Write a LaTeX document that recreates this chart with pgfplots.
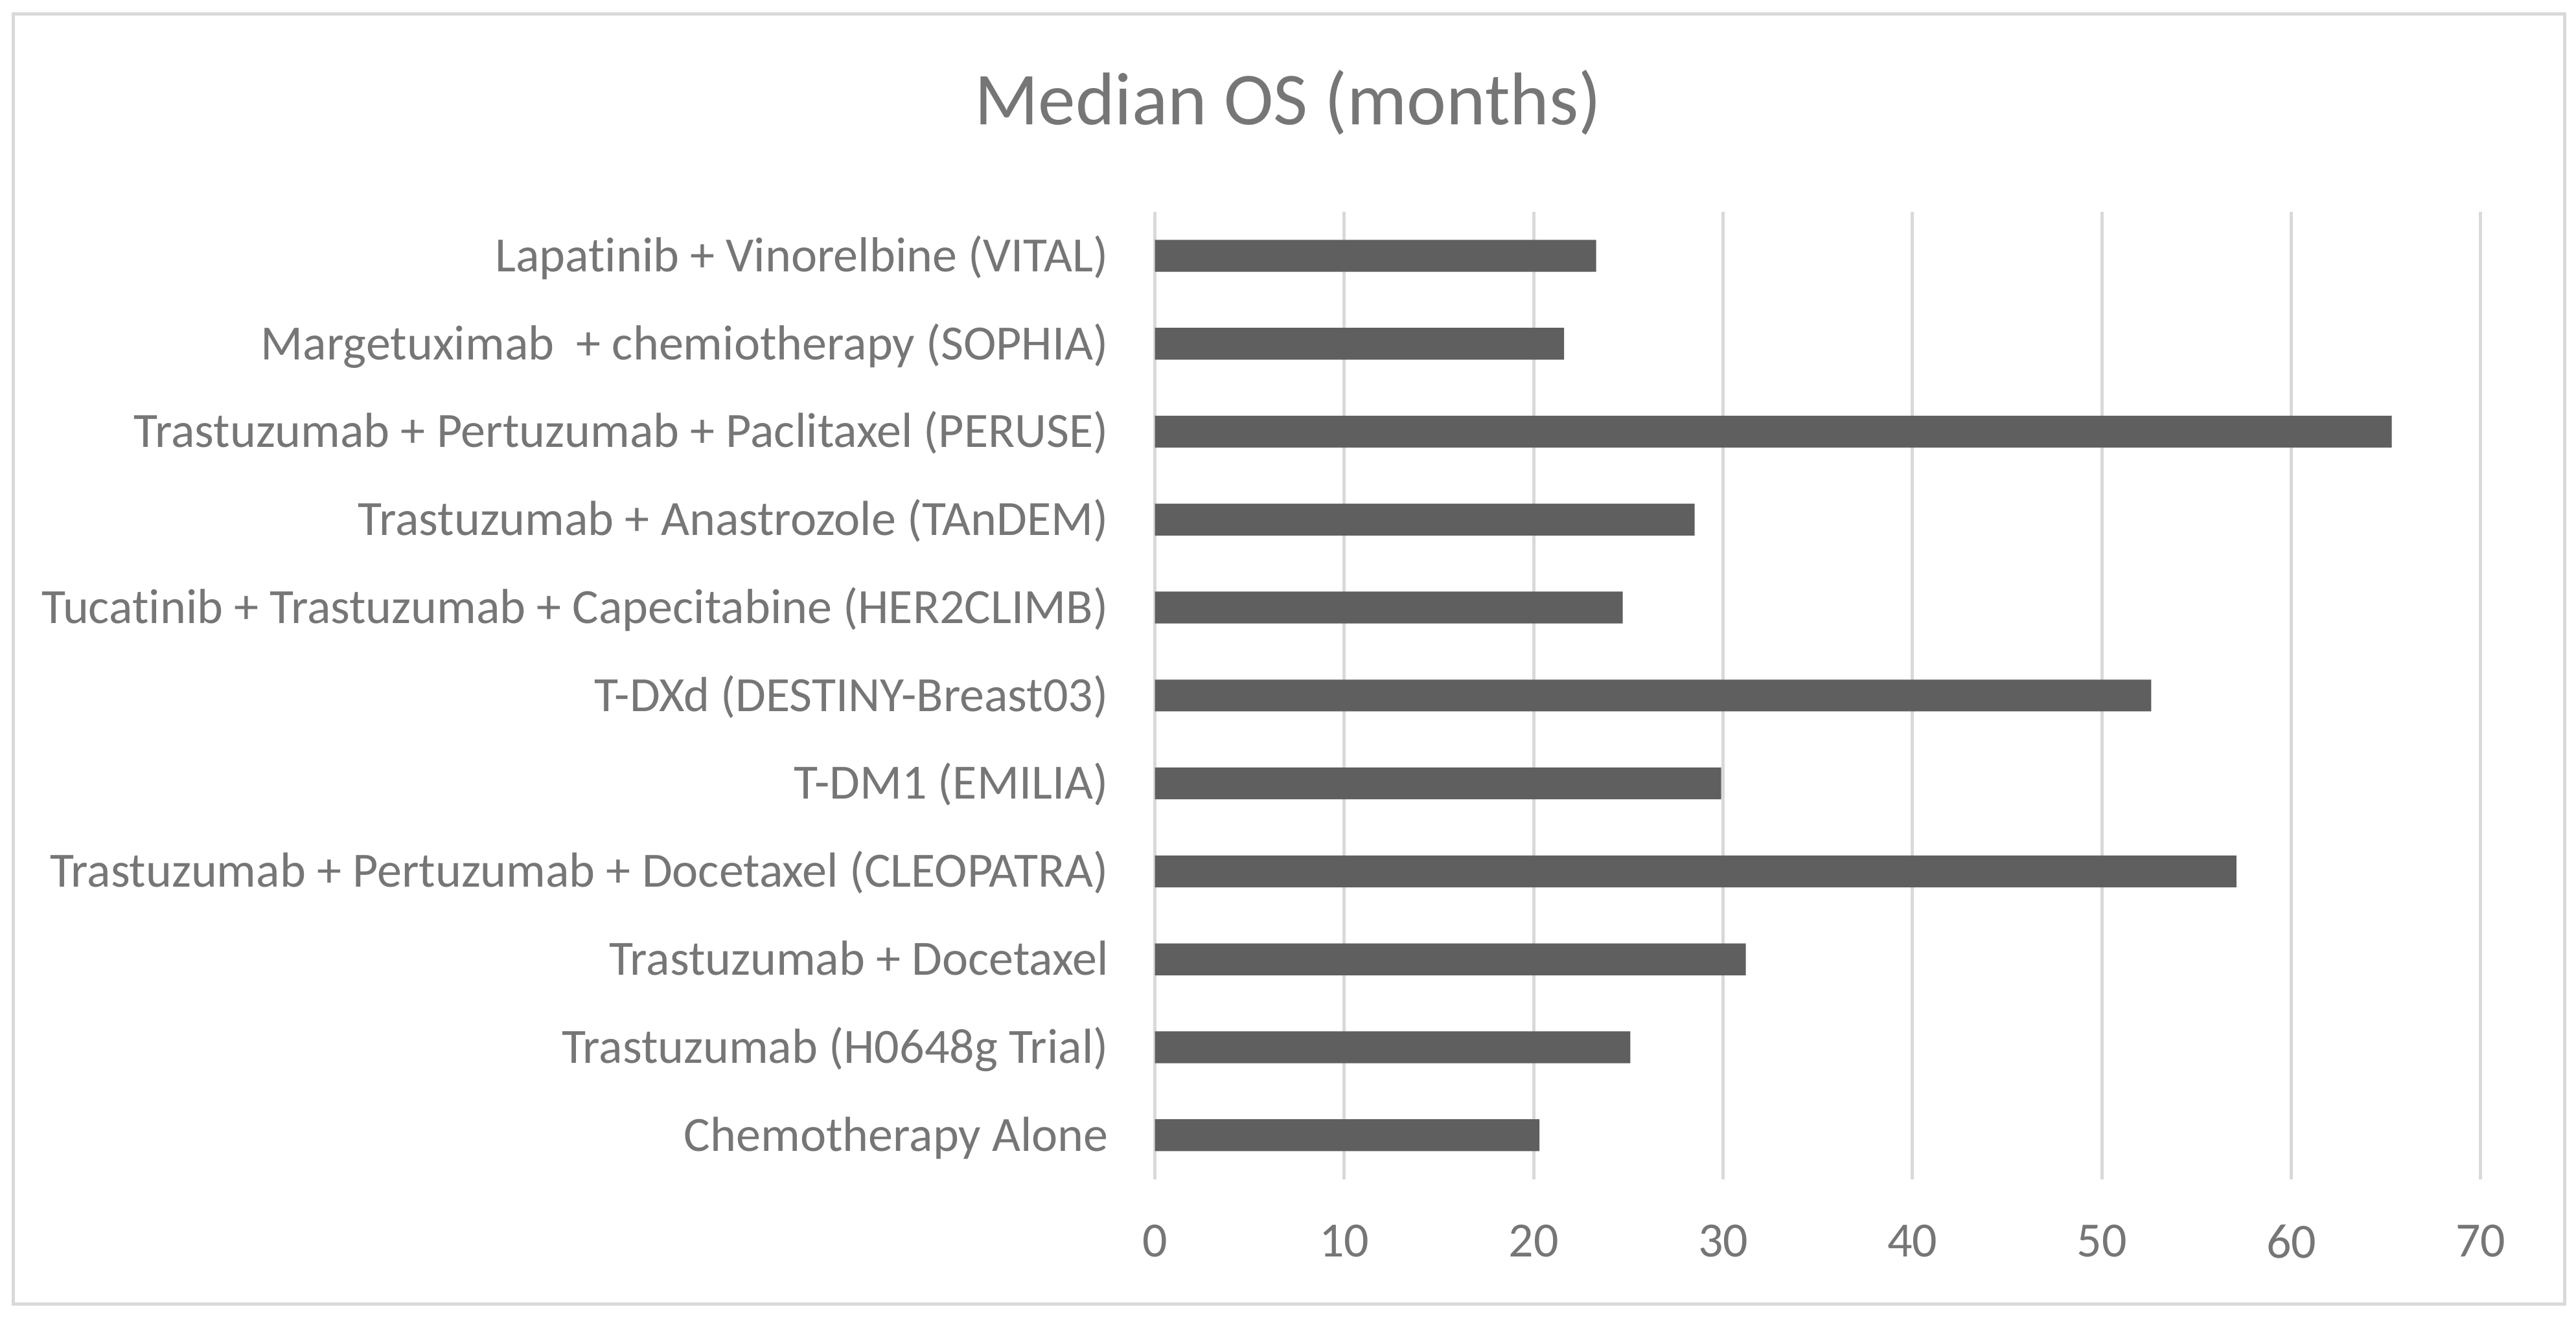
\documentclass[border=0pt]{standalone}
\usepackage{fontspec}
\setmainfont{Carlito}[Ligatures=NoCommon]
\usepackage{pgfplots}
\pgfplotsset{compat=1.18}
\definecolor{bargray}{HTML}{5F5F5F}
\definecolor{gridgray}{HTML}{D9D9D9}
\definecolor{textgray}{HTML}{767676}

\begin{document}
\begin{tikzpicture}
\path[use as bounding box] (0,0) rectangle (784pt,401.25pt);
\draw[gridgray, line width=1pt] (4pt,4.25pt) rectangle (780.5pt,397pt);
\node[textgray, font=\fontsize{22.75}{27}\selectfont, anchor=base, inner sep=0pt]
  at (392pt,363.25pt) {Median OS (months)};
\begin{axis}[
    at={(351.5pt,42.25pt)}, anchor=south west,
    scale only axis, width=403.5pt, height=294.5pt,
    xbar, bar width=9.7pt,
    xmin=0, xmax=70, ymin=-0.5, ymax=10.5,
    xtick={0,10,...,70},
    ytick={0,...,10},
    yticklabels={
        Chemotherapy Alone,
        Trastuzumab (H0648g Trial),
        Trastuzumab + Docetaxel,
        Trastuzumab + Pertuzumab + Docetaxel (CLEOPATRA),
        T-DM1 (EMILIA),
        T-DXd (DESTINY-Breast03),
        Tucatinib + Trastuzumab + Capecitabine (HER2CLIMB),
        Trastuzumab + Anastrozole (TAnDEM),
        Trastuzumab + Pertuzumab + Paclitaxel (PERUSE),
        Margetuximab\ \ + chemiotherapy (SOPHIA),
        Lapatinib + Vinorelbine (VITAL)},
    axis line style={draw=none},
    major tick length=0pt,
    xmajorgrids, grid style={gridgray, line width=1pt},
    tick label style={textgray, font=\fontsize{15}{18}\selectfont},
    xticklabel style={anchor=north, inner sep=0pt, yshift=-13.75pt},
    yticklabel style={anchor=base east, inner sep=0pt, xshift=-14pt, yshift=-4.8pt},
    /pgf/number format/assume math mode=true,
    clip=false,
]
\addplot[fill=bargray, draw=none] coordinates {
    (20.3,0) (25.1,1) (31.2,2) (57.1,3) (29.9,4) (52.6,5)
    (24.7,6) (28.5,7) (65.3,8) (21.6,9) (23.3,10)};
\end{axis}
\end{tikzpicture}
\end{document}
